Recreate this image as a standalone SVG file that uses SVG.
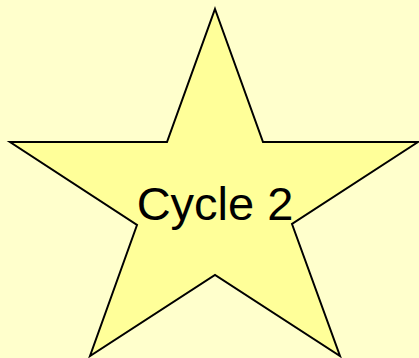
<svg xmlns="http://www.w3.org/2000/svg" width="419" height="358" viewBox="0 0 419 358">
<style>
.star{fill:#FFFF99;stroke:#000;stroke-width:2;stroke-linejoin:miter}
.lbl{font-family:"Liberation Sans",Arial,sans-serif;font-size:47px;fill:#000}
</style>
<rect x="0" y="0" width="419" height="358" fill="#FFFFCC"/>
<g id="star">
<polygon class="star" points="215,9 263,142 418,142 292,224 340,356 215,275 90,356 137,225 10,142 167,142"/>
<text class="lbl" x="215" y="220" text-anchor="middle">Cycle 2</text>
</g>
</svg>
